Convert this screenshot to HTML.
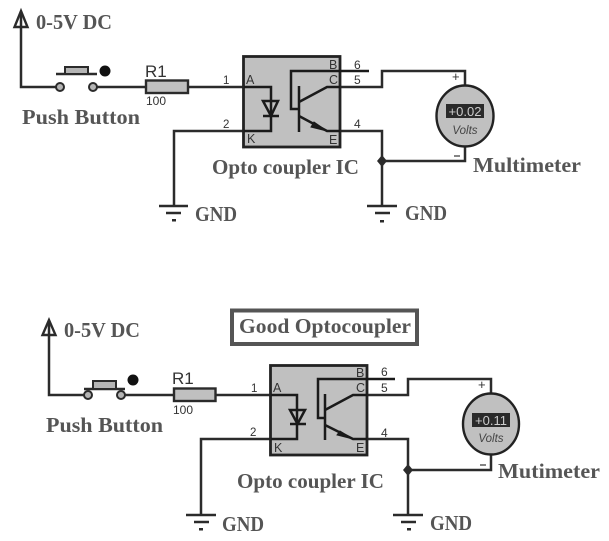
<!DOCTYPE html>
<html><head><meta charset="utf-8">
<style>
html,body{margin:0;padding:0;background:#fff}
svg{display:block}
.w{fill:none;stroke:#2b2b2b;stroke-width:2.500}
.t{fill:none;stroke:#1a1a1a;stroke-width:2.500}
.ic{fill:#c0c0c0;stroke:#222;stroke-width:2.800}
.c{fill:#b5b5b5;stroke:#2b2b2b;stroke-width:2}
.b{font-family:"Liberation Serif",serif;font-weight:bold;fill:#555}
.s{font-family:"Liberation Sans",sans-serif;fill:#333}
</style></head><body>
<svg width="609" height="541" viewBox="0 0 609 541" xmlns="http://www.w3.org/2000/svg">
<rect width="609" height="541" fill="#fff"/>

<!-- TOP -->
<path class="w" d="M21 14V87H56M97 87H146M188 87H244M174 206V131H244M340 87H382V71H465V86M340 131H382V206M382 161H465V146"/>
<path d="M21 11L14.500 27H27.500Z" fill="none" stroke="#2b2b2b" stroke-width="2.400"/>
<text class="b" x="36" y="29" font-size="21" textLength="76" lengthAdjust="spacingAndGlyphs">0-5V DC</text>
<circle class="c" cx="60" cy="87" r="4"/><circle class="c" cx="93" cy="87" r="4"/>
<path class="w" d="M56 74H97"/>
<rect class="c" x="65" y="67" width="23" height="7"/>
<circle cx="105" cy="71" r="5.500" fill="#111"/>
<rect x="146" y="80.500" width="42" height="12.500" fill="#c0c0c0" stroke="#2b2b2b" stroke-width="2.400"/>
<text class="s" x="145" y="77" font-size="17">R1</text>
<text class="s" x="146" y="105" font-size="12">100</text>
<text class="b" x="22" y="124" font-size="21" textLength="118" lengthAdjust="spacingAndGlyphs">Push Button</text>
<text class="s" x="223" y="84" font-size="11.500">1</text>
<text class="s" x="223" y="128" font-size="11.500">2</text>
<rect class="ic" x="243.500" y="56.500" width="96.500" height="90.500"/>
<text class="s" x="246" y="84" font-size="12.500">A</text>
<text class="s" x="247" y="143" font-size="12.500">K</text>
<text class="s" x="329" y="69" font-size="12.500">B</text>
<text class="s" x="329" y="84" font-size="12.500">C</text>
<text class="s" x="329" y="144" font-size="12.500">E</text>
<text class="s" x="354" y="69" font-size="12">6</text>
<text class="s" x="354" y="84" font-size="12">5</text>
<text class="s" x="354" y="128" font-size="12">4</text>
<path class="t" d="M244 87H271V131H244"/>
<path class="t" d="M263 101H278L271 116ZM263 116H279"/>
<path class="t" d="M299 86V132M299 102L327 87H340M299 116L327 131H340M299 109H291V71H369"/>
<path d="M314 122L327 131L311 127Z" fill="#1a1a1a" stroke="#1a1a1a"/>
<ellipse cx="465" cy="116" rx="28.500" ry="30.500" fill="#c0c0c0" stroke="#222" stroke-width="2.400"/>
<rect x="446" y="104" width="38" height="14" fill="#2a2a2a"/>
<text x="465" y="116" font-family="Liberation Sans,sans-serif" font-size="13" fill="#ccc" text-anchor="middle">+0.02</text>
<text x="465" y="134" font-family="Liberation Sans,sans-serif" font-size="11.500" font-style="italic" fill="#444" text-anchor="middle">Volts</text>
<text class="s" x="452" y="81" font-size="13">+</text>
<path d="M454 156H460" stroke="#333" stroke-width="1.200"/>
<path class="w" d="M159 206H188M166 213H181"/><rect x="172" y="219" width="4" height="2.500" fill="#2b2b2b"/>
<path class="w" d="M367 206H397M375 213H390"/><rect x="380" y="220" width="4" height="2.500" fill="#2b2b2b"/>
<path d="M382 155L387 161L382 167L377 161Z" fill="#2b2b2b"/>
<text class="b" x="195" y="221" font-size="21" textLength="42" lengthAdjust="spacingAndGlyphs">GND</text>
<text class="b" x="405" y="220" font-size="21" textLength="42" lengthAdjust="spacingAndGlyphs">GND</text>
<text class="b" x="212" y="174" font-size="21" textLength="147" lengthAdjust="spacingAndGlyphs">Opto coupler IC</text>
<text class="b" x="473" y="172" font-size="21" textLength="108" lengthAdjust="spacingAndGlyphs">Multimeter</text>

<!-- BOTTOM -->
<path class="w" d="M49 323V395H84M125 395H174M215 395H270M201 515V439H270M367 395H408V379H491V394M367 439H408V515M408 470H491V455"/>
<path d="M49 320L42.500 335H55.500Z" fill="none" stroke="#2b2b2b" stroke-width="2.400"/>
<text class="b" x="64" y="337" font-size="21" textLength="76" lengthAdjust="spacingAndGlyphs">0-5V DC</text>
<circle class="c" cx="88" cy="395" r="4"/><circle class="c" cx="121" cy="395" r="4"/>
<path class="w" d="M84 389H125"/>
<rect class="c" x="93" y="381" width="23" height="8"/>
<circle cx="133" cy="380" r="5.500" fill="#111"/>
<rect x="174" y="388.500" width="41.500" height="12.500" fill="#c0c0c0" stroke="#2b2b2b" stroke-width="2.400"/>
<text class="s" x="172" y="384" font-size="17">R1</text>
<text class="s" x="173" y="414" font-size="12">100</text>
<text class="b" x="46" y="432" font-size="21" textLength="117" lengthAdjust="spacingAndGlyphs">Push Button</text>
<text class="s" x="251" y="392" font-size="11.500">1</text>
<text class="s" x="250" y="436" font-size="11.500">2</text>
<rect x="232" y="310.500" width="185" height="33.500" fill="#fff" stroke="#555" stroke-width="4"/>
<text class="b" x="239" y="333" font-size="21" textLength="172" lengthAdjust="spacingAndGlyphs" fill="#444">Good Optocoupler</text>
<rect class="ic" x="270.500" y="365.500" width="96.500" height="89.500"/>
<text class="s" x="273" y="392" font-size="12.500">A</text>
<text class="s" x="274" y="452" font-size="12.500">K</text>
<text class="s" x="356" y="377" font-size="12.500">B</text>
<text class="s" x="356" y="392" font-size="12.500">C</text>
<text class="s" x="356" y="452" font-size="12.500">E</text>
<text class="s" x="381" y="376" font-size="12">6</text>
<text class="s" x="381" y="392" font-size="12">5</text>
<text class="s" x="381" y="437" font-size="12">4</text>
<path class="t" d="M271 395H297V439H271"/>
<path class="t" d="M290 410H305L297.500 424ZM290 424H306"/>
<path class="t" d="M325 394V440M325 410L353 395H367M325 425L353 439H367M325 418H318V379H395"/>
<path d="M340 431L353 439L337 435Z" fill="#1a1a1a" stroke="#1a1a1a"/>
<ellipse cx="491" cy="424" rx="28" ry="30.500" fill="#c0c0c0" stroke="#222" stroke-width="2.400"/>
<rect x="472" y="413" width="38" height="14" fill="#2a2a2a"/>
<text x="491" y="425" font-family="Liberation Sans,sans-serif" font-size="13" fill="#ccc" text-anchor="middle">+0.11</text>
<text x="491" y="442" font-family="Liberation Sans,sans-serif" font-size="11.500" font-style="italic" fill="#444" text-anchor="middle">Volts</text>
<text class="s" x="478" y="389" font-size="13">+</text>
<path d="M480 465H486" stroke="#333" stroke-width="1.200"/>
<path class="w" d="M186 515H216M194 522H209"/><rect x="199" y="528" width="4" height="2.500" fill="#2b2b2b"/>
<path class="w" d="M393 515H423M401 522H416"/><rect x="407" y="528" width="4" height="2.500" fill="#2b2b2b"/>
<path d="M408 464L413 470L408 476L403 470Z" fill="#2b2b2b"/>
<text class="b" x="222" y="531" font-size="21" textLength="42" lengthAdjust="spacingAndGlyphs">GND</text>
<text class="b" x="430" y="530" font-size="21" textLength="42" lengthAdjust="spacingAndGlyphs">GND</text>
<text class="b" x="237" y="488" font-size="21" textLength="147" lengthAdjust="spacingAndGlyphs">Opto coupler IC</text>
<text class="b" x="498" y="478" font-size="21" textLength="102" lengthAdjust="spacingAndGlyphs">Mutimeter</text>
</svg>
</body></html>
